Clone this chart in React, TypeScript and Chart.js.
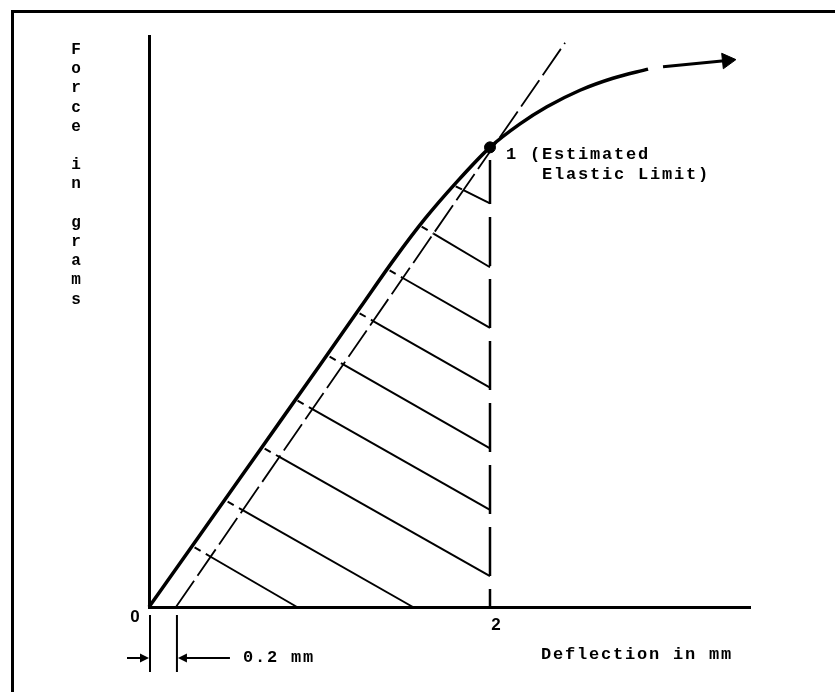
import React, { useEffect, useRef } from "react";
import { Chart, registerables } from "chart.js";

Chart.register(...registerables);

// ---- data (x in mm, y in arbitrary force units 0..10) ----
const curveX = [0, 0.299, 0.651, 1.003, 1.238, 1.443, 1.619, 1.795, 2.0, 2.176, 2.334, 2.528, 2.721, 2.927];
const curveY = [0, 1.26, 2.75, 4.24, 5.24, 6.11, 6.8, 7.41, 8.05, 8.46, 8.76, 9.05, 9.26, 9.42];

const arrowX = [3.015, 3.39];
const arrowY = [9.46, 9.57];

const offsetX = [0.158, 2.44];
const offsetY = [0, 9.88];

const limitX = 2.0;
const limitY = 8.05;

const dropX = [2.0, 2.0];
const dropY = [0, 7.83];

const hatchStartX = [1.783, 1.584, 1.396, 1.22, 1.044, 0.856, 0.663, 0.446, 0.252];
const hatchStartY = [7.39, 6.69, 5.92, 5.17, 4.41, 3.64, 2.8, 1.87, 1.07];
const hatchEndX = [2.0, 2.0, 2.0, 2.0, 2.0, 2.0, 2.0, 1.548, 0.868];
const hatchEndY = [7.07, 5.95, 4.89, 3.84, 2.78, 1.7, 0.54, 0, 0];

const xMax = 3.525;
const yMax = 10;

const xTickValues = [0, 2];
const xTickLabels = ["0", "2"];

const yTitleText = "Force in grams";
const xTitleText = "Deflection in mm";
const offsetLabel = "0.2 mm";
const limitLabel1 = "1 (Estimated";
const limitLabel2 = "Elastic Limit)";

const MONO = "'Liberation Mono', 'Courier New', monospace";
const SANS = "'Liberation Sans', Arial, sans-serif";

const pts = (xs: number[], ys: number[]) => xs.map((x, i) => ({ x, y: ys[i] }));

function intersect(
  p1: { x: number; y: number },
  p2: { x: number; y: number },
  q1: { x: number; y: number },
  q2: { x: number; y: number }
) {
  const d1x = p2.x - p1.x, d1y = p2.y - p1.y;
  const d2x = q2.x - q1.x, d2y = q2.y - q1.y;
  const den = d1x * d2y - d1y * d2x;
  if (Math.abs(den) < 1e-9) return p1;
  let t = ((q1.x - p1.x) * d2y - (q1.y - p1.y) * d2x) / den;
  t = Math.max(0, Math.min(1, t));
  return { x: p1.x + t * d1x, y: p1.y + t * d1y };
}

function setSpacing(ctx: any, v: string) {
  if ("letterSpacing" in ctx) ctx.letterSpacing = v;
}

function arrowHead(ctx: CanvasRenderingContext2D, tipX: number, tipY: number, dir: number) {
  ctx.beginPath();
  ctx.moveTo(tipX, tipY);
  ctx.lineTo(tipX - dir * 9, tipY - 4.5);
  ctx.lineTo(tipX - dir * 9, tipY + 4.5);
  ctx.closePath();
  ctx.fill();
}

const textPlugin = {
  id: "diagramText",
  afterDraw(chart: any) {
    const { ctx, chartArea } = chart;
    const xs = chart.scales.x;
    const ys = chart.scales.y;
    ctx.save();
    ctx.fillStyle = "#000";
    ctx.strokeStyle = "#000";

    // vertical y-axis title, one letter per line
    ctx.font = `bold 16px ${MONO}`;
    setSpacing(ctx, "0px");
    ctx.textAlign = "center";
    ctx.textBaseline = "middle";
    yTitleText.split("").forEach((c, i) => {
      if (c !== " ") ctx.fillText(c, chartArea.left - 73, chartArea.top + 14 + i * 19.2);
    });

    // x tick labels
    ctx.font = `bold 17px ${SANS}`;
    ctx.textAlign = "center";
    xTickValues.forEach((v, i) => {
      const px = xs.getPixelForValue(v);
      if (v === 0) ctx.fillText(xTickLabels[i], px - 14, chartArea.bottom + 10);
      else ctx.fillText(xTickLabels[i], px + 6, chartArea.bottom + 18);
    });

    // monospace texts
    ctx.font = `bold 17px ${MONO}`;
    setSpacing(ctx, "1.8px");
    ctx.textAlign = "left";
    ctx.fillText(xTitleText, xs.getPixelForValue(2) + 51, chartArea.bottom + 48);

    const x0 = xs.getPixelForValue(0);
    const x1 = xs.getPixelForValue(offsetX[0]);
    ctx.fillText(offsetLabel, x1 + 67, chartArea.bottom + 51);

    const lx = xs.getPixelForValue(limitX) + 16;
    const ly = ys.getPixelForValue(limitY);
    ctx.fillText(limitLabel1, lx, ly + 7);
    ctx.fillText(limitLabel2, lx + 36, ly + 27);

    // 0.2 mm dimension marks
    ctx.lineWidth = 2;
    ctx.beginPath();
    ctx.moveTo(x0 + 1, chartArea.bottom + 8);
    ctx.lineTo(x0 + 1, chartArea.bottom + 65);
    ctx.moveTo(x1 + 1, chartArea.bottom + 8);
    ctx.lineTo(x1 + 1, chartArea.bottom + 65);
    const ay = chartArea.bottom + 51;
    ctx.moveTo(x0 - 22, ay);
    ctx.lineTo(x0 - 4, ay);
    ctx.moveTo(x1 + 54, ay);
    ctx.lineTo(x1 + 6, ay);
    ctx.stroke();
    arrowHead(ctx, x0, ay, 1);
    arrowHead(ctx, x1 + 2, ay, -1);

    ctx.restore();
  },
};

export default function App() {
  const ref = useRef<HTMLCanvasElement | null>(null);

  useEffect(() => {
    if (!ref.current) return;
    const offA = { x: offsetX[0], y: offsetY[0] };
    const offB = { x: offsetX[1], y: offsetY[1] };

    const hatchSets: any[] = [];
    hatchStartX.forEach((sx, i) => {
      const s = { x: sx, y: hatchStartY[i] };
      const e = { x: hatchEndX[i], y: hatchEndY[i] };
      const m = intersect(s, e, offA, offB);
      hatchSets.push({
        label: `hatch-solid-${i}`,
        data: [m, e],
        borderColor: "#000",
        borderWidth: 2,
        showLine: true,
        pointRadius: 0,
        clip: false,
      });
      hatchSets.push({
        label: `hatch-dash-${i}`,
        data: [s, m],
        borderColor: "#000",
        borderWidth: 2,
        borderDash: [7, 6],
        borderDashOffset: 10,
        showLine: true,
        pointRadius: 0,
        clip: false,
      });
    });

    const chart = new Chart(ref.current, {
      type: "scatter",
      data: {
        datasets: [
          {
            label: "limit",
            data: [{ x: limitX, y: limitY }],
            pointRadius: 5.5,
            pointBackgroundColor: "#000",
            pointBorderColor: "#000",
            showLine: false,
            clip: false,
          },
          {
            label: "curve",
            data: pts(curveX, curveY),
            borderColor: "#000",
            borderWidth: 3.5,
            cubicInterpolationMode: "monotone",
            showLine: true,
            pointRadius: 0,
            clip: false,
          },
          {
            label: "arrow",
            data: pts(arrowX, arrowY),
            borderColor: "#000",
            borderWidth: 3,
            showLine: true,
            pointRadius: [0, 9],
            pointStyle: "triangle",
            pointRotation: 84,
            pointBackgroundColor: "#000",
            pointBorderColor: "#000",
            pointBorderWidth: 1,
            clip: false,
          },
          {
            label: "offset",
            data: pts(offsetX, offsetY),
            borderColor: "#000",
            borderWidth: 1.8,
            borderDash: [32, 6],
            showLine: true,
            pointRadius: 0,
            clip: false,
          },
          {
            label: "drop",
            data: pts(dropX, dropY),
            borderColor: "#000",
            borderWidth: 2.5,
            borderDash: [49, 13],
            borderDashOffset: 31,
            showLine: true,
            pointRadius: 0,
            clip: false,
          },
          ...hatchSets,
        ],
      },
      options: {
        responsive: false,
        maintainAspectRatio: false,
        animation: false,
        events: [],
        layout: { padding: { left: 149, right: 85, top: 36, bottom: 85 } },
        plugins: { legend: { display: false }, tooltip: { enabled: false } },
        scales: {
          x: {
            type: "linear",
            min: 0,
            max: xMax,
            grid: { display: false, drawTicks: false },
            ticks: { display: false },
            border: { display: true, color: "#000", width: 3 },
          },
          y: {
            type: "linear",
            min: 0,
            max: yMax,
            grid: { display: false, drawTicks: false },
            ticks: { display: false },
            border: { display: true, color: "#000", width: 3 },
          },
        },
      } as any,
      plugins: [textPlugin],
    });
    return () => chart.destroy();
  }, []);

  return (
    <div
      style={{
        position: "absolute",
        left: 0,
        top: 0,
        width: 835,
        height: 692,
        overflow: "hidden",
        background: "#fff",
      }}
    >
      <div
        style={{
          position: "absolute",
          left: 11,
          top: 10,
          width: 840,
          height: 700,
          borderLeft: "3px solid #000",
          borderTop: "3px solid #000",
          pointerEvents: "none",
        }}
      />
      <canvas ref={ref} width={835} height={692} style={{ position: "absolute", left: 0, top: 0 }} />
    </div>
  );
}
